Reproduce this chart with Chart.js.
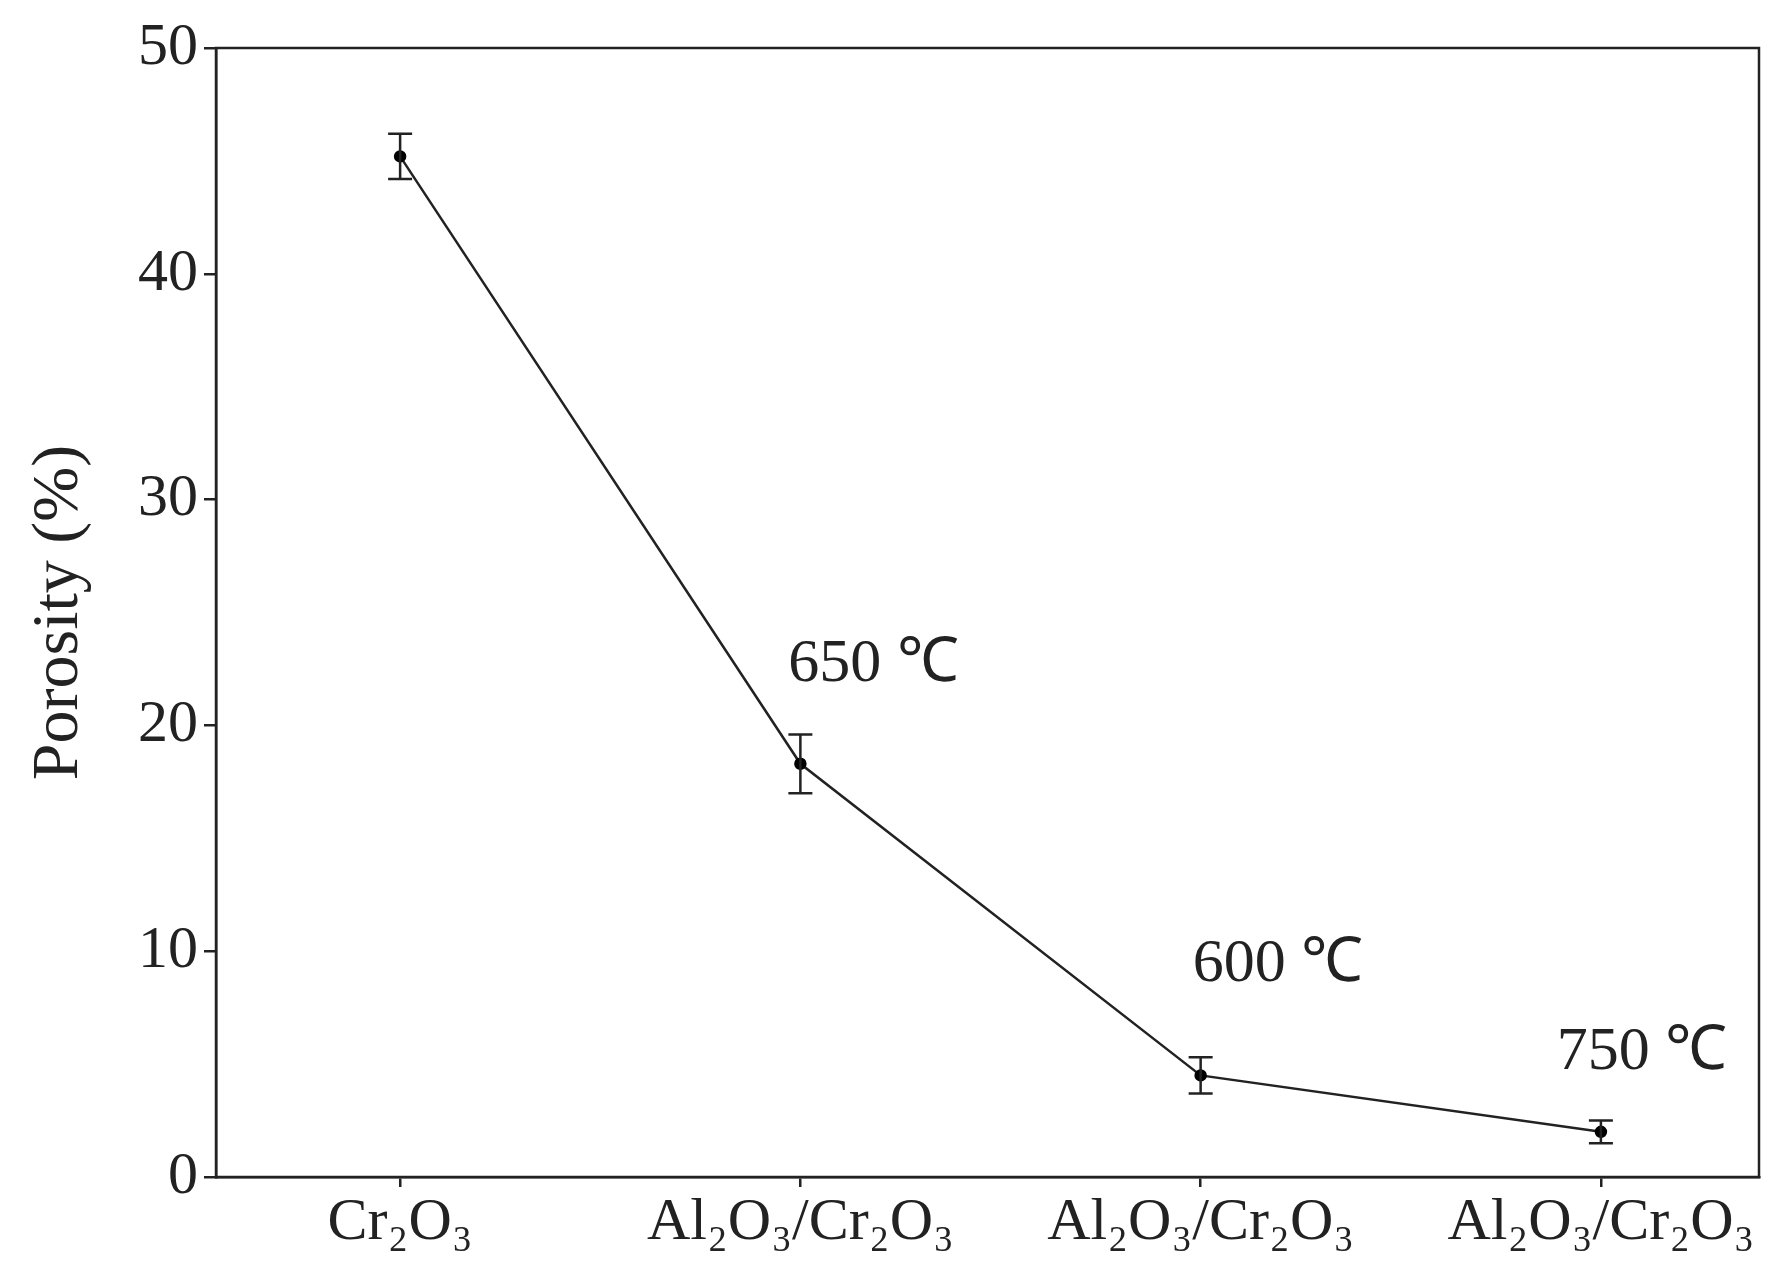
<!DOCTYPE html>
<html>
<head>
<meta charset="utf-8">
<script src="https://cdn.jsdelivr.net/npm/chart.js@4.4.0/dist/chart.umd.min.js"></script>
<style>
  html, body { margin: 0; padding: 0; background: #fff; }
  #wrap { width: 1782px; height: 1263px; }
</style>
</head>
<body>
<div id="wrap"><canvas id="chart"></canvas></div>
<script>
// Porosity data
const categories = ["Cr₂O₃", "Al₂O₃/Cr₂O₃", "Al₂O₃/Cr₂O₃", "Al₂O₃/Cr₂O₃"];
const porosity = [45.2, 18.3, 4.5, 2.0];
const errors = [1.0, 1.3, 0.8, 0.5];
const yTicks = [0, 10, 20, 30, 40, 50];
const notes = ["650 ℃", "600 ℃", "750 ℃"];
const noteX = [0.97, 1.98, 2.89];
const noteY = [22.7, 9.4, 5.5];

const font = "'Liberation Serif', 'Times New Roman', serif";

// error bars, frame and temperature labels
const extras = {
  id: "extras",
  afterDatasetsDraw(chart) {
    const { ctx, scales: { x, y }, chartArea: a } = chart;
    ctx.save();
    ctx.strokeStyle = "#222";
    ctx.lineWidth = 2.5;
    porosity.forEach((v, i) => {
      const px = x.getPixelForValue(i);
      const top = y.getPixelForValue(v + errors[i]);
      const bot = y.getPixelForValue(v - errors[i]);
      ctx.beginPath();
      ctx.moveTo(px, top); ctx.lineTo(px, bot);
      ctx.moveTo(px - 12, top); ctx.lineTo(px + 12, top);
      ctx.moveTo(px - 12, bot); ctx.lineTo(px + 12, bot);
      ctx.stroke();
    });
    ctx.strokeRect(a.left, a.top, a.right - a.left, a.bottom - a.top);
    ctx.fillStyle = "#222";
    ctx.font = `62px ${font}`;
    ctx.textAlign = "left";
    ctx.textBaseline = "middle";
    notes.forEach((t, i) => {
      ctx.fillText(t, x.getPixelForValue(noteX[i]), y.getPixelForValue(noteY[i]));
    });
    ctx.restore();
  },
};

new Chart(document.getElementById("chart"), {
  type: "line",
  data: {
    datasets: [
      {
        data: porosity.map((v, i) => ({ x: i, y: v })),
        borderColor: "#222",
        borderWidth: 2.5,
        pointBackgroundColor: "#000",
        pointBorderColor: "#000",
        pointRadius: 5,
        tension: 0,
      },
    ],
  },
  options: {
    responsive: true,
    maintainAspectRatio: false,
    animation: false,
    layout: { padding: { top: 48, right: 23, left: 0, bottom: 0 } },
    plugins: { legend: { display: false }, tooltip: { enabled: false } },
    scales: {
      x: {
        type: "linear",
        min: -0.46,
        max: 3.395,
        afterBuildTicks: (s) => { s.ticks = categories.map((c, i) => ({ value: i })); },
        afterFit: (s) => { s.height = 86; },
        ticks: {
          callback: (v) => categories[v] ?? "",
          color: "#222",
          font: { family: font, size: 60 },
          padding: 0,
          maxRotation: 0,
          autoSkip: false,
        },
        grid: { drawOnChartArea: false, tickLength: 10, color: "#222", lineWidth: 2.5 },
        border: { color: "#222", width: 2.5 },
      },
      y: {
        min: 0,
        max: 50,
        afterBuildTicks: (s) => { s.ticks = yTicks.map((v) => ({ value: v })); },
        afterFit: (s) => { s.width = 216; },
        ticks: {
          color: "#222",
          font: { family: font, size: 60 },
          padding: 6,
        },
        title: {
          display: true,
          text: "Porosity (%)",
          color: "#222",
          font: { family: font, size: 66 },
          padding: { top: 20, bottom: 20 },
        },
        grid: { drawOnChartArea: false, tickLength: 12, color: "#222", lineWidth: 2.5 },
        border: { color: "#222", width: 2.5 },
      },
    },
  },
  plugins: [extras],
});
</script>
</body>
</html>
